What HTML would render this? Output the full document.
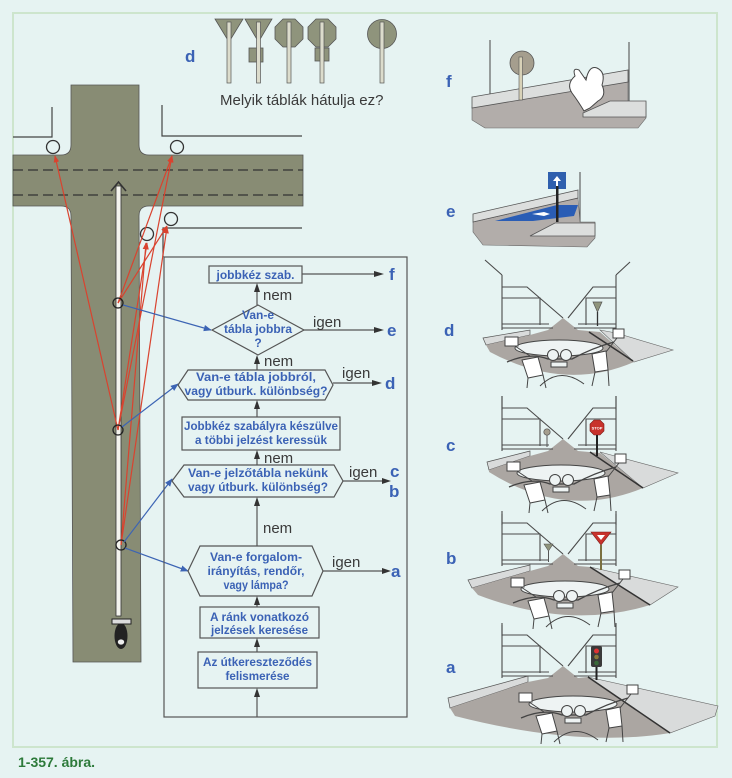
<!DOCTYPE html>
<html><head><meta charset="utf-8"><style>
html,body{margin:0;padding:0;background:#e6f3f2;}
svg{display:block}
.fc{font-family:"Liberation Sans",sans-serif;font-weight:bold;font-size:12px;fill:#3b62b5;text-anchor:middle}
.g{font-family:"Liberation Sans",sans-serif;font-size:15px;fill:#3a3a3a}
.L{font-family:"Liberation Sans",sans-serif;font-size:17px;font-weight:bold;fill:#3b62b5}
</style></head><body>
<svg width="732" height="778" viewBox="0 0 732 778" xmlns="http://www.w3.org/2000/svg">
<defs>
<marker id="rA" viewBox="0 0 10 10" refX="9" refY="5" markerWidth="7" markerHeight="7" orient="auto" markerUnits="userSpaceOnUse"><path d="M0,1 L10,5 L0,9 Z" fill="#d9432f"/></marker>
<marker id="bA" viewBox="0 0 10 10" refX="9" refY="5" markerWidth="8" markerHeight="8" orient="auto" markerUnits="userSpaceOnUse"><path d="M0,1 L10,5 L0,9 Z" fill="#3c64b4"/></marker>
<g id="bld" fill="none" stroke="#4a4a4a" stroke-width="1.1">
<path d="M502,275 V330 M502,287 H527 L563,318 M502,298 H540 V325 M502,324 H549 M502,328 H553"/>
<path d="M616,275 V330 M616,287 H593 L568,318 M616,298 H586 V325 M616,324 H578 M616,328 H574"/>
</g>
<g id="bike" stroke="#444" stroke-width="1">
<ellipse cx="559" cy="348" rx="44" ry="8" fill="#eef3f3"/>
<path d="M507,362 Q530,352 548,359 L572,359 Q592,348 614,342" fill="none" stroke-width="1.3"/>
<circle cx="553" cy="355" r="5.5" fill="#eef3f3"/>
<circle cx="566" cy="355" r="5.5" fill="#eef3f3"/>
<rect x="551" y="362" width="16" height="5" fill="#eef3f3"/>
<rect x="505" y="337" width="13" height="9" fill="#fff"/>
<rect x="613" y="329" width="11" height="9" fill="#fff"/>
<path d="M515,346 L530,356 M617,338 L606,352" fill="none"/>
<polygon points="522,360 538,357 543,375 528,378" fill="#fff"/>
<polygon points="592,354 606,351 608,370 595,372" fill="#fff"/>
<path d="M528,378 L527,388 M543,375 L546,388 M595,372 L592,386 M608,370 L609,386 M540,386 Q560,366 584,384" fill="none"/>
</g>
</defs>

<rect x="0" y="0" width="732" height="778" fill="#e6f3f2"/>
<rect x="13" y="13" width="704" height="734" fill="none" stroke="#cde5cd" stroke-width="2"/>

<!-- ROAD -->
<path d="M71,85 L139,85 L139,145 Q139,155 149,155 L303,155 L303,206 L149,206 Q139,206 139,216 L141,662 L73,662 L71,216 Q71,206 61,206 L13,206 L13,155 L61,155 Q71,155 71,145 Z" fill="#888c74" stroke="#555" stroke-width="0.8"/>
<path d="M13,170 H303 M13,195 H303" stroke="#333" stroke-width="1.2" stroke-dasharray="10 5"/>
<path d="M13,137 H52 V107 M162,105 V136 H302 M302,228 H163 V257" fill="none" stroke="#444" stroke-width="1.2"/>
<g fill="#e6f3f2" stroke="#333" stroke-width="1.3">
<circle cx="53" cy="147" r="6.5"/><circle cx="177" cy="147" r="6.5"/>
<circle cx="171" cy="219" r="6.5"/><circle cx="147" cy="234" r="6.5"/>
</g>
<rect x="116" y="186" width="5" height="430" fill="#f4f4ee" stroke="#333" stroke-width="0.8"/>
<path d="M111,191 L118.5,182 L126,191" fill="none" stroke="#333" stroke-width="1.6"/>
<!-- motorcycle -->
<ellipse cx="121" cy="636" rx="6.5" ry="13" fill="#222"/>
<rect x="112" y="619" width="19" height="5" fill="#ddd" stroke="#222" stroke-width="1"/>
<ellipse cx="121" cy="642" rx="3.2" ry="2.6" fill="#eee"/>

<!-- red sight lines -->
<g stroke="#d9432f" stroke-width="1.2" fill="none" marker-end="url(#rA)">
<line x1="118" y1="430" x2="55" y2="156"/>
<line x1="118" y1="430" x2="172" y2="156"/>
<line x1="118" y1="430" x2="147" y2="243"/>
<line x1="118" y1="303" x2="172" y2="156"/>
<line x1="118" y1="303" x2="167" y2="226"/>
<line x1="121" y1="545" x2="146" y2="243"/>
<line x1="121" y1="545" x2="167" y2="227"/>
</g>
<g fill="none" stroke="#222" stroke-width="1.3">
<circle cx="118" cy="303" r="5"/><circle cx="118" cy="430" r="5"/><circle cx="121" cy="545" r="5"/>
</g>
<!-- blue lines -->
<g stroke="#3c64b4" stroke-width="1.2" fill="none" marker-end="url(#bA)">
<line x1="123" y1="305" x2="211" y2="330"/>
<line x1="122" y1="427" x2="178" y2="384"/>
<line x1="124" y1="542" x2="172" y2="479"/>
<line x1="125" y1="548" x2="188" y2="571"/>
</g>

<!-- TOP SIGNS -->
<text x="185" y="62" class="L">d</text>
<g fill="#8f947c" stroke="#555" stroke-width="0.8">
<polygon points="215,19 243,19 229,42"/>
<polygon points="245,19 272,19 258.5,42"/><rect x="249" y="48" width="14" height="14"/>
<polygon points="283,19 295,19 303,27 303,39 295,47 283,47 275,39 275,27"/>
<polygon points="316,19 328,19 336,27 336,39 328,47 316,47 308,39 308,27"/><rect x="315" y="48" width="14" height="13"/>
<circle cx="382" cy="34" r="14.5"/>
</g>
<g fill="#dcdccc" stroke="#555" stroke-width="0.7">
<rect x="227" y="22" width="4" height="61"/><rect x="256.5" y="22" width="4" height="61"/>
<rect x="287" y="22" width="4" height="61"/><rect x="320" y="22" width="4" height="61"/>
<rect x="380" y="22" width="4" height="61"/>
</g>
<text x="220" y="105" class="g">Melyik táblák hátulja ez?</text>

<!-- FLOWCHART -->
<rect x="164" y="257" width="243" height="460" fill="none" stroke="#555" stroke-width="1.2"/>
<g fill="none" stroke="#555" stroke-width="1.2">
<rect x="209" y="266" width="93" height="17"/>
<polygon points="212,330 258,305 304,330 258,355"/>
<polygon points="178,385 188,370 325,370 333,385 325,400 188,400"/>
<rect x="182" y="417" width="158" height="33"/>
<polygon points="172,481 184,465 334,465 343,481 334,497 184,497"/>
<polygon points="188,571 200,546 312,546 323,571 312,596 200,596"/>
<rect x="200" y="607" width="119" height="31"/>
<rect x="198" y="652" width="119" height="36"/>
<path d="M257,305 V290 M257,370 V362 M257,417 V407 M257,465 V457 M257,546 V505 M257,607 V603 M257,652 V645 M257,717 V695"/>
<path d="M302,274 H376 M304,330 H376 M333,383 H376 M343,481 H384 M323,571 H384"/>
</g>
<g fill="#333">
<polygon points="254,292 257,283 260,292"/><polygon points="254,364 257,355 260,364"/>
<polygon points="254,409 257,400 260,409"/><polygon points="254,459 257,450 260,459"/>
<polygon points="254,506 257,497 260,506"/><polygon points="254,605 257,596 260,605"/>
<polygon points="254,647 257,638 260,647"/><polygon points="254,697 257,688 260,697"/>
<polygon points="374,271 384,274 374,277"/><polygon points="374,327 384,330 374,333"/>
<polygon points="372,380 382,383 372,386"/><polygon points="382,478 391,481 382,484"/>
<polygon points="382,568 391,571 382,574"/>
</g>
<text x="255.5" y="279" class="fc" textLength="78" lengthAdjust="spacingAndGlyphs">jobbkéz szab.</text>
<text x="258" y="319" class="fc" textLength="32" lengthAdjust="spacingAndGlyphs">Van-e</text>
<text x="258" y="333" class="fc" textLength="68" lengthAdjust="spacingAndGlyphs">tábla jobbra</text>
<text x="258" y="347" class="fc">?</text>
<text x="256" y="381" class="fc" textLength="120" lengthAdjust="spacingAndGlyphs">Van-e tábla jobbról,</text>
<text x="256" y="395" class="fc" textLength="143" lengthAdjust="spacingAndGlyphs">vagy útburk. különbség?</text>
<text x="261" y="430" class="fc" textLength="154" lengthAdjust="spacingAndGlyphs">Jobbkéz szabályra készülve</text>
<text x="261" y="444" class="fc" textLength="132" lengthAdjust="spacingAndGlyphs">a többi jelzést keressük</text>
<text x="258" y="477" class="fc" textLength="140" lengthAdjust="spacingAndGlyphs">Van-e jelzőtábla nekünk</text>
<text x="258" y="491" class="fc" textLength="140" lengthAdjust="spacingAndGlyphs">vagy útburk. különbség?</text>
<text x="256" y="561" class="fc" textLength="92" lengthAdjust="spacingAndGlyphs">Van-e forgalom-</text>
<text x="256" y="575" class="fc" textLength="97" lengthAdjust="spacingAndGlyphs">irányítás, rendőr,</text>
<text x="256" y="589" class="fc" textLength="65" lengthAdjust="spacingAndGlyphs">vagy lámpa?</text>
<text x="259.5" y="621" class="fc" textLength="99" lengthAdjust="spacingAndGlyphs">A ránk vonatkozó</text>
<text x="259.5" y="634" class="fc" textLength="97" lengthAdjust="spacingAndGlyphs">jelzések keresése</text>
<text x="257.5" y="666" class="fc" textLength="109" lengthAdjust="spacingAndGlyphs">Az útkereszteződés</text>
<text x="257.5" y="680" class="fc" textLength="64" lengthAdjust="spacingAndGlyphs">felismerése</text>
<g class="g" font-size="15">
<text x="263" y="300">nem</text><text x="264" y="366">nem</text><text x="264" y="463">nem</text><text x="263" y="533">nem</text>
<text x="313" y="327">igen</text><text x="342" y="378">igen</text><text x="349" y="477">igen</text><text x="332" y="567">igen</text>
</g>
<text x="389" y="280" class="L">f</text>
<text x="387" y="336" class="L">e</text>
<text x="385" y="389" class="L">d</text>
<text x="390" y="477" class="L">c</text>
<text x="389" y="497" class="L">b</text>
<text x="391" y="577" class="L">a</text>

<!-- PANEL f -->
<text x="446" y="87" class="L">f</text>
<path d="M490,40 V98 M629,42 V102" stroke="#555" stroke-width="1.1"/>
<polygon points="472,107 628,80 628,102 646,102 646,118 638,128 485,128 472,120" fill="#b2adaa" stroke="#666" stroke-width="0.6"/>
<polygon points="472,97 628,70 628,82 472,108" fill="#dcdedd" stroke="#555" stroke-width="0.8"/>
<polygon points="583,113 610,101 646,101 646,117 583,117" fill="#dcdedd" stroke="#555" stroke-width="0.8"/>
<circle cx="522" cy="63" r="12" fill="#a59e8e" stroke="#555" stroke-width="0.8"/>
<rect x="519" y="57" width="3.5" height="43" fill="#d8d2b8" stroke="#555" stroke-width="0.6"/>
<path d="M575,76 Q572,67 579,70 L586,80 Q589,65 597,68 Q606,72 602,85 Q607,96 598,101 L590,108 L584,111 Q578,101 572,93 Q566,84 575,76 Z" fill="#fff" stroke="#444" stroke-width="1"/>

<!-- PANEL e -->
<text x="446" y="217" class="L">e</text>
<path d="M580,172 V222" stroke="#555" stroke-width="1.1"/>
<polygon points="473,222 578,198 580,222 595,222 595,238 587,247 483,245 473,232" fill="#b2adaa" stroke="#666" stroke-width="0.6"/>
<polygon points="473,214 578,190 578,198 473,222" fill="#dcdedd" stroke="#555" stroke-width="0.8"/>
<polygon points="495,221 557,205 578,205 574,216 533,221" fill="#2a5db5"/>
<path d="M532,214 L544,212 L550,214 L544,216 Z" fill="#fff"/>
<polygon points="530,236 555,223 595,223 595,236" fill="#dcdedd" stroke="#555" stroke-width="0.8"/>
<rect x="548" y="172" width="18" height="17" fill="#2f5fae"/>
<path d="M557,176 L553,181 H556 V186 H558 V181 H561 Z" fill="#fff"/>
<rect x="556" y="186" width="2.5" height="36" fill="#222"/>

<!-- PANEL d -->
<text x="444" y="336" class="L">d</text>
<polygon points="600,330 616,333 673,350 634,362" fill="#d9dbdb" stroke="#666" stroke-width="0.6"/>
<polygon points="483,338 530,330 530,335 486,345" fill="#d9dbdb" stroke="#555" stroke-width="0.7"/>
<path d="M486,345 L530,335 L548,330 L563,318 L578,330 L600,332 L634,362 Q565,392 490,352 Z" fill="#aba6a2"/>
<line x1="589" y1="332" x2="633" y2="361" stroke="#333" stroke-width="1.5"/>
<use href="#bld"/>
<path d="M485,260 L502,275 M630,262 L616,275" stroke="#4a4a4a" stroke-width="1.1"/>
<polygon points="593,302 602,302 597.5,312" fill="#8f947c" stroke="#555" stroke-width="0.7"/>
<line x1="597.5" y1="312" x2="597.5" y2="326" stroke="#333" stroke-width="1.3"/>
<use href="#bike"/>

<!-- PANEL c -->
<text x="446" y="451" class="L">c</text>
<polygon points="600,452 678,473 643,488" fill="#d9dbdb" stroke="#666" stroke-width="0.6"/>
<polygon points="487,462 530,451 530,456 489,470" fill="#d9dbdb" stroke="#555" stroke-width="0.7"/>
<path d="M489,470 L530,456 L548,451 L563,439 L578,451 L600,453 L643,488 Q565,520 489,472 Z" fill="#aba6a2"/>
<line x1="590" y1="452" x2="643" y2="488" stroke="#333" stroke-width="1.5"/>
<use href="#bld" transform="translate(0,121)"/>
<path d="M502,396 V410 M616,396 V410" stroke="#4a4a4a" stroke-width="1.1"/>
<circle cx="547" cy="432" r="3.2" fill="#a59e8e" stroke="#555" stroke-width="0.7"/>
<line x1="547" y1="435" x2="547" y2="447" stroke="#555" stroke-width="1"/>
<polygon points="594,420 600,420 604,424 604,431 600,435 594,435 590,431 590,424" fill="#c8322c" stroke="#7a1a16" stroke-width="0.6"/>
<text x="597" y="429.5" font-family="Liberation Sans, sans-serif" font-size="4" font-weight="bold" fill="#fff" text-anchor="middle">STOP</text>
<line x1="597" y1="435" x2="597" y2="456" stroke="#222" stroke-width="2"/>
<use href="#bike" transform="translate(2,125)"/>

<!-- PANEL b -->
<text x="446" y="564" class="L">b</text>
<polygon points="590,567 678,587 650,605" fill="#d9dbdb" stroke="#666" stroke-width="0.6"/>
<polygon points="468,580 530,565 530,571 472,588" fill="#d9dbdb" stroke="#555" stroke-width="0.7"/>
<path d="M472,588 L530,571 L548,566 L563,554 L578,566 L590,567 L650,605 Q570,630 478,595 Z" fill="#aba6a2"/>
<line x1="590" y1="567" x2="650" y2="605" stroke="#333" stroke-width="1.5"/>
<use href="#bld" transform="translate(0,236)"/>
<path d="M502,514 V525 M616,514 V525" stroke="#4a4a4a" stroke-width="1.1"/>
<polygon points="544,544 553,544 548.5,551" fill="#8f947c" stroke="#555" stroke-width="0.6"/>
<line x1="548.5" y1="551" x2="548.5" y2="562" stroke="#555" stroke-width="1"/>
<polygon points="591,532 611,532 601,545" fill="#c8322c" stroke="#7a1a16" stroke-width="0.6"/>
<polygon points="597,535 605,535 601,540" fill="#fff"/>
<line x1="601" y1="545" x2="601" y2="570" stroke="#7a7040" stroke-width="2"/>
<use href="#bike" transform="translate(6,241)"/>

<!-- PANEL a -->
<text x="446" y="673" class="L">a</text>
<polygon points="588,677 718,706 715,716 670,733" fill="#d9dbdb" stroke="#666" stroke-width="0.6"/>
<polygon points="448,698 528,676 528,682 450,708" fill="#d9dbdb" stroke="#555" stroke-width="0.7"/>
<path d="M450,708 L528,682 L548,678 L563,666 L578,678 L588,677 L670,733 Q580,748 455,716 Z" fill="#aba6a2"/>
<line x1="588" y1="677" x2="670" y2="733" stroke="#333" stroke-width="1.5"/>
<use href="#bld" transform="translate(0,348)"/>
<path d="M502,625 V636" stroke="#4a4a4a" stroke-width="1.1"/>
<rect x="591" y="646" width="11" height="21" rx="2" fill="#3a3a3a"/>
<circle cx="596.5" cy="651" r="2.5" fill="#d33"/>
<circle cx="596.5" cy="657" r="2.3" fill="#8a7a3a"/>
<circle cx="596.5" cy="663" r="2.3" fill="#3a6a3a"/>
<line x1="596.5" y1="667" x2="596.5" y2="680" stroke="#222" stroke-width="2"/>
<use href="#bike" transform="translate(14,356)"/>

<!-- caption -->
<text x="18" y="767" font-family="Liberation Sans, sans-serif" font-size="14" font-weight="bold" fill="#2d7a3a">1-357. ábra.</text>
</svg>
</body></html>
